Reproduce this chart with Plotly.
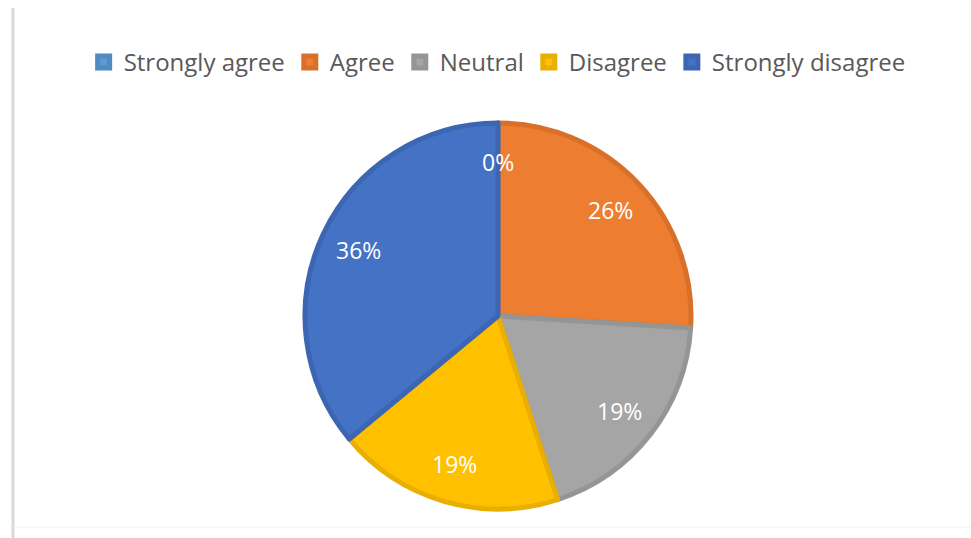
import math
import plotly.graph_objects as go

categories = ["Strongly agree", "Agree", "Neutral", "Disagree", "Strongly disagree"]
values = [0, 26, 19, 19, 36]
colors = ["#5B9BD5", "#ED7D31", "#A5A5A5", "#FFC000", "#4472C4"]
edge_colors = ["#4F8AC0", "#D8702A", "#959595", "#E8AE00", "#3C66B2"]

W, H = 971, 538
cx, cy, r = 498, 316, 193
label_frac = 0.8

fig = go.Figure(go.Pie(
    labels=categories,
    values=values,
    sort=False,
    direction="clockwise",
    rotation=0,
    marker=dict(colors=colors, line=dict(color=edge_colors, width=5)),
    textinfo="none",
    domain=dict(x=[(cx - r) / W, (cx + r) / W], y=[(H - cy - r) / H, (H - cy + r) / H]),
    hoverinfo="label+percent",
))

# data labels placed at each slice's mid-angle, derived from the values
total = sum(values)
annotations = []
cum = 0.0
for v in values:
    mid = (cum + v / 2) / total * 2 * math.pi
    cum += v
    px = cx + label_frac * r * math.sin(mid)
    py = cy - label_frac * r * math.cos(mid)
    annotations.append(dict(
        x=px / W, y=1 - py / H, xref="paper", yref="paper",
        text=f"{round(v / total * 100)}%", showarrow=False,
        font=dict(family="Open Sans", size=23, color="#ffffff"),
        xanchor="center", yanchor="middle",
    ))

fig.update_layout(
    width=W, height=H,
    margin=dict(l=0, r=0, t=0, b=0),
    paper_bgcolor="#ffffff",
    font=dict(family="Open Sans", color="#595959"),
    annotations=annotations,
    legend=dict(
        orientation="h",
        x=0.512, xanchor="center",
        y=1 - 40 / H, yanchor="top",
        font=dict(family="Open Sans", size=24, color="#595959"),
        itemclick=False,
        traceorder="normal",
    ),
    shapes=[
        dict(type="line", xref="paper", yref="paper", x0=13 / W, x1=13 / W, y0=0, y1=1 - 8 / H,
             line=dict(color="#d9d9d9", width=3)),
        dict(type="line", xref="paper", yref="paper", x0=13 / W, x1=1, y0=1 - 527 / H, y1=1 - 527 / H,
             line=dict(color="#f2f2f2", width=1)),
    ],
)

fig.write_html("out.html")
